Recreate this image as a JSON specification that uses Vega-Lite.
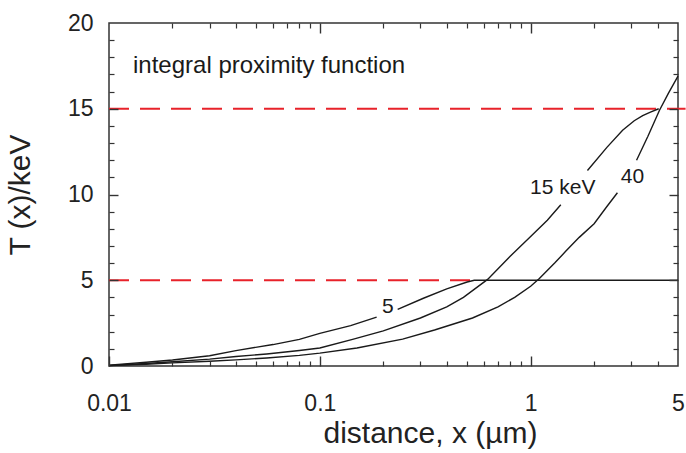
{
  "$schema": "https://vega.github.io/schema/vega-lite/v6.json",
  "width": 569,
  "height": 343,
  "autosize": "none",
  "padding": {"left": 109, "top": 23, "right": 8, "bottom": 87},
  "background": "white",
  "config": {
    "view": {"stroke": "#333", "strokeWidth": 1.5},
    "font": "Liberation Sans",
    "axis": {"zindex": 1}
  },
  "resolve": {"axis": {"x": "independent", "y": "independent"}},
  "datasets": {
    "curves": [
      {"seg": "5a", "x": 0.01, "y": 0.05}, {"seg": "5a", "x": 0.015, "y": 0.22}, {"seg": "5a", "x": 0.02, "y": 0.35},
      {"seg": "5a", "x": 0.03, "y": 0.6}, {"seg": "5a", "x": 0.04, "y": 0.9}, {"seg": "5a", "x": 0.06, "y": 1.25},
      {"seg": "5a", "x": 0.08, "y": 1.55}, {"seg": "5a", "x": 0.1, "y": 1.9}, {"seg": "5a", "x": 0.14, "y": 2.35},
      {"seg": "5a", "x": 0.186, "y": 2.85},
      {"seg": "5b", "x": 0.234, "y": 3.3}, {"seg": "5b", "x": 0.31, "y": 3.95}, {"seg": "5b", "x": 0.4, "y": 4.5},
      {"seg": "5b", "x": 0.5, "y": 4.9}, {"seg": "5b", "x": 0.54, "y": 5.0}, {"seg": "5b", "x": 5, "y": 5.0},
      {"seg": "15a", "x": 0.01, "y": 0.03}, {"seg": "15a", "x": 0.015, "y": 0.15}, {"seg": "15a", "x": 0.02, "y": 0.25},
      {"seg": "15a", "x": 0.03, "y": 0.4}, {"seg": "15a", "x": 0.04, "y": 0.55}, {"seg": "15a", "x": 0.056, "y": 0.7},
      {"seg": "15a", "x": 0.08, "y": 0.9}, {"seg": "15a", "x": 0.1, "y": 1.05}, {"seg": "15a", "x": 0.143, "y": 1.55},
      {"seg": "15a", "x": 0.2, "y": 2.05}, {"seg": "15a", "x": 0.3, "y": 2.8}, {"seg": "15a", "x": 0.4, "y": 3.45},
      {"seg": "15a", "x": 0.48, "y": 4.0}, {"seg": "15a", "x": 0.625, "y": 5.05}, {"seg": "15a", "x": 0.8, "y": 6.4},
      {"seg": "15a", "x": 1.0, "y": 7.55}, {"seg": "15a", "x": 1.2, "y": 8.5}, {"seg": "15a", "x": 1.39, "y": 9.4},
      {"seg": "15b", "x": 1.86, "y": 11.4}, {"seg": "15b", "x": 2.3, "y": 12.75}, {"seg": "15b", "x": 2.73, "y": 13.75},
      {"seg": "15b", "x": 3.1, "y": 14.3}, {"seg": "15b", "x": 3.4, "y": 14.6}, {"seg": "15b", "x": 3.7, "y": 14.8},
      {"seg": "15b", "x": 4.05, "y": 15.0},
      {"seg": "40a", "x": 0.01, "y": 0.02}, {"seg": "40a", "x": 0.015, "y": 0.1}, {"seg": "40a", "x": 0.02, "y": 0.18},
      {"seg": "40a", "x": 0.03, "y": 0.28}, {"seg": "40a", "x": 0.04, "y": 0.36}, {"seg": "40a", "x": 0.056, "y": 0.47},
      {"seg": "40a", "x": 0.08, "y": 0.62}, {"seg": "40a", "x": 0.1, "y": 0.75}, {"seg": "40a", "x": 0.15, "y": 1.05},
      {"seg": "40a", "x": 0.247, "y": 1.57}, {"seg": "40a", "x": 0.35, "y": 2.1}, {"seg": "40a", "x": 0.53, "y": 2.8},
      {"seg": "40a", "x": 0.7, "y": 3.45}, {"seg": "40a", "x": 0.84, "y": 4.0}, {"seg": "40a", "x": 1.0, "y": 4.65},
      {"seg": "40a", "x": 1.1, "y": 5.1}, {"seg": "40a", "x": 1.3, "y": 6.0}, {"seg": "40a", "x": 1.47, "y": 6.7},
      {"seg": "40a", "x": 1.7, "y": 7.5}, {"seg": "40a", "x": 2.0, "y": 8.3}, {"seg": "40a", "x": 2.3, "y": 9.3},
      {"seg": "40a", "x": 2.58, "y": 10.1},
      {"seg": "40b", "x": 3.18, "y": 12.0}, {"seg": "40b", "x": 3.6, "y": 13.4}, {"seg": "40b", "x": 4.08, "y": 14.9},
      {"seg": "40b", "x": 4.5, "y": 15.9}, {"seg": "40b", "x": 5.0, "y": 16.9}
    ],
    "refs": [
      {"x": 0.01, "x2": 5.43, "y": 15},
      {"x": 0.01, "x2": 0.52, "y": 5}
    ],
    "curveLabels": [
      {"label": "5", "x": 0.21, "y": 3.45},
      {"label": "15 keV", "x": 1.42, "y": 10.4},
      {"label": "40", "x": 3.04, "y": 11.0}
    ],
    "note": [
      {"label": "integral proximity function", "x": 0.013, "y": 17.1}
    ]
  },
  "layer": [
    {
      "data": {"name": "refs"},
      "mark": {"type": "rule", "color": "#e8222a", "strokeWidth": 2.2, "strokeDash": [20, 11], "clip": false},
      "encoding": {
        "x": {"field": "x", "type": "quantitative",
          "scale": {"type": "log", "domain": [0.01, 5], "nice": false},
          "axis": {
            "orient": "top", "title": null, "labels": false, "grid": false, "domain": false, "zindex": 1,
            "ticks": true, "tickColor": "#333", "tickWidth": 1.2, "tickSize": 5, "offset": -5,
            "values": [0.02,0.03,0.04,0.05,0.06,0.07,0.08,0.09,0.2,0.3,0.4,0.5,0.6,0.7,0.8,0.9,2,3,4]
          }
        },
        "x2": {"field": "x2"},
        "y": {"field": "y", "type": "quantitative",
          "scale": {"domain": [0, 20], "nice": false},
          "axis": {
            "orient": "right", "title": null, "labels": false, "grid": false, "domain": false, "zindex": 1,
            "ticks": true, "tickColor": "#333", "tickWidth": 1.2, "tickSize": 5, "offset": -5,
            "values": [1,2,3,4,6,7,8,9,11,12,13,14,16,17,18,19]
          }
        }
      }
    },
    {
      "data": {"name": "curves"},
      "mark": {"type": "line", "color": "#1a1a1a", "strokeWidth": 1.4},
      "encoding": {
        "x": {"field": "x", "type": "quantitative",
          "scale": {"type": "log", "domain": [0.01, 5], "nice": false},
          "axis": {
            "orient": "bottom", "title": "distance, x (µm)", "grid": false, "domain": false, "zindex": 1,
            "ticks": true, "tickColor": "#333", "tickWidth": 1.4, "tickSize": 10, "offset": -10,
            "values": [0.01, 0.1, 1, 5],
            "tickOpacity": {"condition": {"test": "datum.value == 5", "value": 0}, "value": 1},
            "labelExpr": "datum.value == 0.01 ? '0.01' : datum.value == 0.1 ? '0.1' : datum.value == 1 ? '1' : '5'",
            "labelOverlap": false, "labelFlush": false, "labelBound": false,
            "labelFontSize": 23, "labelColor": "#222", "labelPadding": 26, "labelFont": "Liberation Sans",
            "titleFontSize": 30, "titleFontWeight": "normal", "titleColor": "#222", "titlePadding": 3, "titleFont": "Liberation Sans",
            "titleX": 321, "titleAlign": "center"
          }
        },
        "y": {"field": "y", "type": "quantitative",
          "scale": {"domain": [0, 20], "nice": false},
          "axis": {
            "orient": "left", "title": "T (x)/keV", "grid": false, "domain": false, "zindex": 1,
            "ticks": true, "tickColor": "#333", "tickWidth": 1.4, "tickSize": 9, "offset": -9,
            "values": [0, 5, 10, 15, 20],
            "tickOpacity": {"condition": {"test": "datum.value == 0 || datum.value == 20", "value": 0}, "value": 1},
            "labelOverlap": false, "labelFlush": false,
            "labelFontSize": 23, "labelColor": "#222", "labelPadding": 16, "labelFont": "Liberation Sans",
            "titleFontSize": 30, "titleFontWeight": "normal", "titleColor": "#222", "titlePadding": 32, "titleFont": "Liberation Sans"
          }
        },
        "detail": {"field": "seg", "type": "nominal"}
      }
    },
    {
      "data": {"name": "curveLabels"},
      "mark": {"type": "text", "fontSize": 21, "color": "#1a1a1a", "align": "center", "baseline": "middle", "font": "Liberation Sans"},
      "encoding": {
        "x": {"field": "x", "type": "quantitative", "scale": {"type": "log", "domain": [0.01, 5], "nice": false},
          "axis": {"orient": "bottom", "title": null, "labels": false, "grid": false, "domain": false, "zindex": 1,
            "ticks": true, "tickColor": "#333", "tickWidth": 1.2, "tickSize": 5, "offset": -5,
            "values": [0.02,0.03,0.04,0.05,0.06,0.07,0.08,0.09,0.2,0.3,0.4,0.5,0.6,0.7,0.8,0.9,2,3,4]}},
        "y": {"field": "y", "type": "quantitative", "scale": {"domain": [0, 20], "nice": false},
          "axis": {"orient": "left", "title": null, "labels": false, "grid": false, "domain": false, "zindex": 1,
            "ticks": true, "tickColor": "#333", "tickWidth": 1.2, "tickSize": 5, "offset": -5,
            "values": [1,2,3,4,6,7,8,9,11,12,13,14,16,17,18,19]}},
        "text": {"field": "label"}
      }
    },
    {
      "data": {"name": "note"},
      "mark": {"type": "text", "fontSize": 24, "color": "#1a1a1a", "align": "left", "baseline": "alphabetic", "font": "Liberation Sans"},
      "encoding": {
        "x": {"field": "x", "type": "quantitative", "scale": {"type": "log", "domain": [0.01, 5], "nice": false},
          "axis": {"orient": "top", "title": null, "labels": false, "grid": false, "domain": false, "zindex": 1,
            "ticks": true, "tickColor": "#333", "tickWidth": 1.4, "tickSize": 10, "offset": -10,
            "values": [0.1, 1]}},
        "y": {"field": "y", "type": "quantitative", "scale": {"domain": [0, 20], "nice": false},
          "axis": {"orient": "right", "title": null, "labels": false, "grid": false, "domain": false, "zindex": 1,
            "ticks": true, "tickColor": "#333", "tickWidth": 1.4, "tickSize": 9, "offset": -9,
            "values": [5, 10, 15]}},
        "text": {"field": "label"}
      }
    }
  ]
}
